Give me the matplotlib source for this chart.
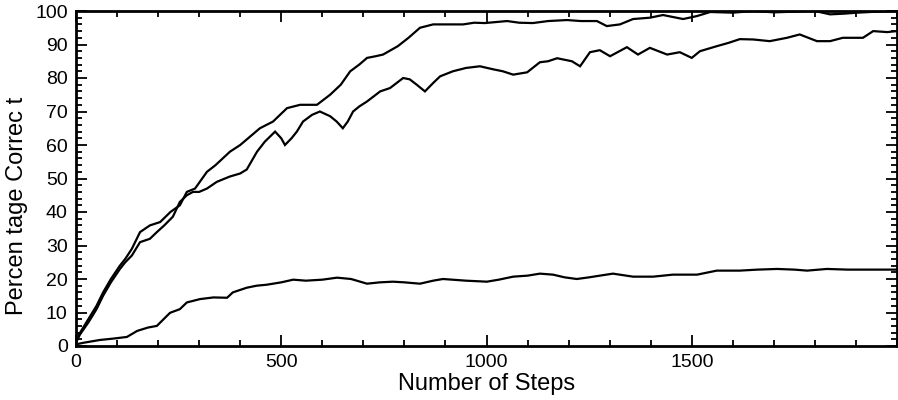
import matplotlib
matplotlib.use('Agg')
import matplotlib.pyplot as plt
from matplotlib.ticker import MultipleLocator

plt.rcParams['font.family'] = ['Liberation Sans', 'DejaVu Sans']

# upper run, levels off near 100
steps_a = [0, 10, 30, 50, 66, 85, 107, 120, 136, 156, 180, 205, 230, 253, 270,
           290, 319, 340, 375, 400, 448, 480, 514, 546, 587, 619, 645, 668, 690,
           709, 730, 748, 784, 810, 838, 870, 900, 943, 970, 996, 1050, 1080,
           1113, 1150, 1196, 1230, 1269, 1293, 1325, 1357, 1398, 1430, 1479,
           1513, 1545, 1600, 1650, 1700, 1750, 1800, 1837, 1870, 1903, 1950, 2000]
pct_a = [1.5, 4, 8, 12, 16, 20, 24, 26, 29, 34, 36, 37, 40, 42, 46,
         47, 52, 54, 58, 60, 65, 67, 71, 72, 72, 75, 78, 82, 84,
         86, 86.5, 87, 89.5, 92, 95, 96, 96, 96, 96.5, 96.4, 97, 96.5,
         96.4, 97, 97.3, 97, 97, 95.5, 96, 97.6, 98, 98.8, 97.6,
         98.5, 99.7, 99.5, 100, 99.6, 99.8, 100, 99, 99.2, 99.5, 99.8, 100]

# middle run, ends near 94
steps_b = [0, 10, 30, 50, 66, 85, 107, 120, 136, 156, 180, 197, 215, 236, 253,
           270, 285, 300, 319, 343, 375, 400, 416, 441, 460, 485, 500, 509, 525,
           538, 553, 575, 594, 619, 635, 650, 662, 675, 690, 709, 741, 765, 797,
           813, 830, 850, 870, 887, 918, 950, 984, 1016, 1040, 1065, 1099, 1130,
           1150, 1172, 1208, 1228, 1252, 1276, 1301, 1342, 1369, 1398, 1440, 1471,
           1500, 1520, 1561, 1590, 1617, 1650, 1690, 1732, 1763, 1805, 1837, 1868,
           1917, 1942, 1976, 2000]
pct_b = [1, 3.5, 7, 11, 15, 19, 23, 25, 27, 31, 32, 34, 36, 38.6, 43,
         45, 46, 46, 47, 49, 50.6, 51.5, 52.7, 58, 61, 64, 62, 60, 62,
         64, 67, 69, 70, 68.6, 67, 65, 67, 70, 71.5, 73, 76, 77, 80,
         79.6, 78, 76, 78.5, 80.5, 82, 83, 83.5, 82.6, 82, 81, 81.7, 84.7,
         85, 85.9, 85, 83.5, 87.7, 88.3, 86.5, 89.2, 87, 89, 87, 87.7,
         86, 88, 89.5, 90.5, 91.6, 91.5, 91, 92, 93, 91, 91, 92,
         92, 94, 93.7, 94]

# lower run, flattens out around 20
steps_c = [0, 20, 58, 90, 124, 149, 175, 197, 229, 253, 270, 302, 335, 368, 382,
           416, 440, 465, 500, 529, 560, 600, 636, 670, 709, 740, 772, 800, 838,
           870, 894, 950, 1001, 1030, 1065, 1100, 1130, 1162, 1190, 1220, 1250,
           1276, 1308, 1357, 1406, 1454, 1513, 1561, 1617, 1660, 1708, 1750, 1781,
           1829, 1880, 1940, 2000]
pct_c = [0.5, 1, 1.8, 2.2, 2.7, 4.5, 5.5, 6, 9.9, 11, 13, 14, 14.5, 14.4, 16,
         17.4, 18, 18.3, 19, 19.8, 19.5, 19.8, 20.4, 20, 18.6, 19, 19.2, 19, 18.6,
         19.5, 20, 19.5, 19.2, 19.8, 20.7, 21, 21.6, 21.3, 20.5, 20, 20.5,
         21, 21.6, 20.7, 20.7, 21.3, 21.3, 22.5, 22.5, 22.8, 23, 22.8, 22.5,
         23, 22.8, 22.8, 22.8]

x_ticks = [0, 500, 1000, 1500]
y_ticks = list(range(0, 101, 10))

fig = plt.figure(figsize=(8.98, 4), dpi=100)
ax = fig.add_axes([76 / 898, 54 / 400, 821 / 898, 335 / 400])

for xs, ys in [(steps_a, pct_a), (steps_b, pct_b), (steps_c, pct_c)]:
    ax.plot(xs, ys, color='black', lw=1.6, solid_joinstyle='miter')

ax.set_xlim(0, 2000)
ax.set_ylim(0, 100)
ax.set_xticks(x_ticks)
ax.set_yticks(y_ticks)
ax.xaxis.set_minor_locator(MultipleLocator(100))
ax.yaxis.set_minor_locator(MultipleLocator(2))

ax.tick_params(which='both', direction='in', top=True, right=True,
               labelsize=14, pad=6, width=1.3, color='black')
ax.tick_params(which='major', length=8)
ax.tick_params(which='minor', length=4)
for s in ax.spines.values():
    s.set_linewidth(2)

ax.set_xlabel('Number of Steps', fontsize=17, labelpad=1)
fig.text(17 / 898, 1 - 206 / 400, 'Percen tage Correc t', rotation=90,
         fontsize=17, ha='center', va='center')

fig.savefig('out.png', dpi=100)
